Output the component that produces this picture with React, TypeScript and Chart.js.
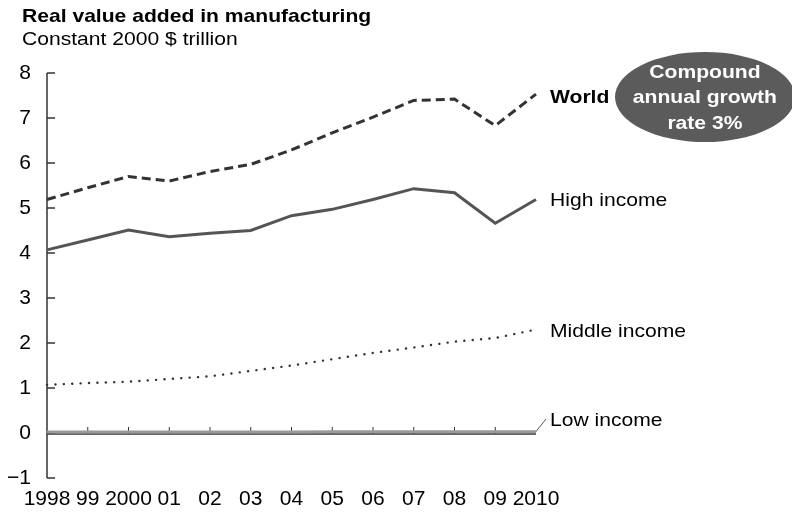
import React, { useEffect, useRef } from 'react';
import { Chart, registerables } from 'chart.js';

Chart.register(...registerables);

const years = ['1998', '99', '2000', '01', '02', '03', '04', '05', '06', '07', '08', '09', '2010'];
const world = [5.19, 5.45, 5.7, 5.6, 5.81, 5.97, 6.29, 6.67, 7.02, 7.39, 7.42, 6.83, 7.53];
const highIncome = [4.07, 4.29, 4.51, 4.36, 4.44, 4.5, 4.83, 4.97, 5.19, 5.43, 5.34, 4.66, 5.19];
const middleIncome = [1.07, 1.11, 1.14, 1.2, 1.26, 1.38, 1.5, 1.64, 1.78, 1.9, 2.03, 2.11, 2.3];
const lowIncome = [0.02, 0.02, 0.02, 0.02, 0.02, 0.02, 0.02, 0.03, 0.03, 0.03, 0.03, 0.03, 0.03];
const yMin = -1;
const yMax = 8;

const FONT = '"Liberation Sans", Arial, Helvetica, sans-serif';

export default function App() {
  const ref = useRef<HTMLCanvasElement>(null);

  useEffect(() => {
    document.body.style.margin = '0';
    const axisPlugin = {
      id: 'customAxes',
      beforeDatasetsDraw(chart: any) {
        const { ctx, chartArea, scales } = chart;
        const x = scales.x;
        const y = scales.y;
        ctx.save();
        ctx.strokeStyle = '#333';
        ctx.lineWidth = 1.5;
        const ax = chartArea.left;
        ctx.beginPath();
        ctx.moveTo(ax, y.getPixelForValue(yMax));
        ctx.lineTo(ax, y.getPixelForValue(yMin));
        ctx.stroke();
        for (let v = yMin; v <= yMax; v++) {
          const py = y.getPixelForValue(v);
          ctx.beginPath();
          ctx.moveTo(ax, py);
          ctx.lineTo(ax + 8, py);
          ctx.stroke();
        }
        const y0 = y.getPixelForValue(0) + 1;
        ctx.beginPath();
        ctx.moveTo(ax, y0);
        ctx.lineTo(x.getPixelForValue(years.length - 1), y0);
        ctx.stroke();
        ctx.lineWidth = 1;
        for (let i = 1; i < years.length - 1; i++) {
          const px = x.getPixelForValue(i);
          ctx.beginPath();
          ctx.moveTo(px, y0);
          ctx.lineTo(px, y0 - 7);
          ctx.stroke();
        }
        const endX = x.getPixelForValue(years.length - 1);
        ctx.strokeStyle = '#555';
        ctx.lineWidth = 1;
        ctx.beginPath();
        ctx.moveTo(endX - 2, y0);
        ctx.lineTo(endX + 10, y0 - 15);
        ctx.stroke();
        ctx.restore();
      },
    };

    const chart = new Chart(ref.current as HTMLCanvasElement, {
      type: 'line',
      data: {
        labels: years,
        datasets: [
          {
            label: 'Low income',
            data: lowIncome,
            borderColor: '#9a9a9a',
            borderWidth: 3,
            pointRadius: 0,
            tension: 0,
            clip: false,
          },
          {
            label: 'Middle income',
            data: middleIncome,
            borderColor: '#333',
            borderWidth: 2.4,
            borderDash: [0.1, 8.3],
            borderCapStyle: 'round',
            pointRadius: 0,
            tension: 0,
            clip: false,
          },
          {
            label: 'High income',
            data: highIncome,
            borderColor: '#555',
            borderWidth: 3,
            pointRadius: 0,
            tension: 0,
            clip: false,
          },
          {
            label: 'World',
            data: world,
            borderColor: '#333',
            borderWidth: 3,
            borderDash: [9, 5],
            pointRadius: 0,
            tension: 0,
            clip: false,
          },
        ],
      } as any,
      options: {
        responsive: false,
        animation: false,
        devicePixelRatio: 1,
        layout: { padding: { top: 73, right: 256, bottom: 0, left: 0 } },
        plugins: {
          legend: { display: false },
          tooltip: { enabled: false },
          title: { display: false },
        },
        scales: {
          x: {
            type: 'category',
            offset: false,
            grid: { display: false, drawTicks: false },
            border: { display: false },
            ticks: {
              color: '#000',
              font: { family: FONT, size: 21 },
              padding: 9,
              autoSkip: false,
              maxRotation: 0,
              minRotation: 0,
            },
            afterFit: (scale: any) => {
              scale.height = 36;
            },
          },
          y: {
            type: 'linear',
            min: yMin,
            max: yMax,
            grid: { display: false, drawTicks: false },
            border: { display: false },
            ticks: {
              stepSize: 1,
              color: '#000',
              font: { family: FONT, size: 21 },
              padding: 16,
              callback: (v: any) => (Number(v) < 0 ? '\u2212' + Math.abs(Number(v)) : String(v)),
            },
            afterFit: (scale: any) => {
              scale.width = 47;
            },
          },
        },
      } as any,
      plugins: [axisPlugin],
    });
    return () => chart.destroy();
  }, []);

  const label = (top: number, left: number, text: string, bold = false) => (
    <div
      style={{
        position: 'absolute',
        top,
        left,
        fontFamily: FONT,
        fontSize: 19,
        lineHeight: '19px',
        fontWeight: bold ? 'bold' : 'normal',
        color: '#000',
        whiteSpace: 'nowrap',
        transform: 'scaleX(1.11)',
        transformOrigin: 'left center',
      }}
    >
      {text}
    </div>
  );

  return (
    <div style={{ position: 'relative', width: 792, height: 514, overflow: 'hidden', background: '#fff' }}>
      <canvas ref={ref} width={792} height={514} style={{ position: 'absolute', left: 0, top: 0 }} />
      {label(6, 22, 'Real value added in manufacturing', true)}
      {label(29, 22, 'Constant 2000 $ trillion')}
      {label(87, 550, 'World', true)}
      {label(190, 550, 'High income')}
      {label(321, 550, 'Middle income')}
      {label(410, 550, 'Low income')}
      <div
        style={{
          position: 'absolute',
          left: 615,
          top: 52,
          width: 180,
          height: 90,
          borderRadius: '50%',
          background: '#5b5b5b',
          color: '#fff',
          fontFamily: FONT,
          fontWeight: 'bold',
          fontSize: 19,
          lineHeight: '25.5px',
          display: 'flex',
          alignItems: 'center',
          justifyContent: 'center',
          textAlign: 'center',
        }}
      >
        <div style={{ transform: 'scaleX(1.11)', whiteSpace: 'nowrap' }}>
          Compound
          <br />
          annual growth
          <br />
          rate 3%
        </div>
      </div>
    </div>
  );
}
